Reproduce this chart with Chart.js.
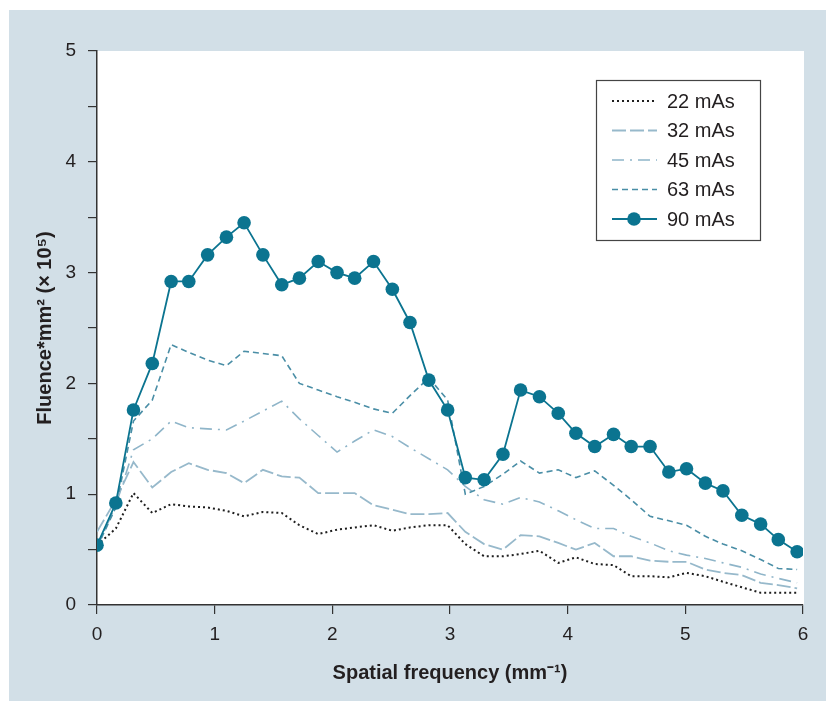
<!DOCTYPE html>
<html lang="en">
<head>
    <meta charset="UTF-8">
    <title>Fluence vs spatial frequency</title>
    <script src="https://cdn.jsdelivr.net/npm/chart.js@4.4.0/dist/chart.umd.min.js"></script>
    <style>
        body {
            margin: 0;
            background-color: #fff;
        }
        .panel {
            position: absolute;
            left: 9px;
            top: 10px;
            width: 817px;
            height: 691px;
            background-color: #d2dfe7;
        }
    </style>
</head>
<body>
    <div class="panel">
        <canvas id="chart" width="817" height="691"></canvas>
    </div>

    <script>
        // Spatial frequency samples (mm^-1)
        const freq = [0, 0.16, 0.31, 0.47, 0.63, 0.78, 0.94, 1.10, 1.25, 1.41,
            1.57, 1.72, 1.88, 2.04, 2.19, 2.35, 2.51, 2.66, 2.82, 2.98,
            3.13, 3.29, 3.45, 3.60, 3.76, 3.92, 4.07, 4.23, 4.39, 4.54,
            4.70, 4.86, 5.01, 5.17, 5.32, 5.48, 5.64, 5.79, 5.95];

        // Fluence*mm^2 (x 10^5) for each tube load
        const mas22 = [0.54, 0.69, 1.01, 0.83, 0.91, 0.89, 0.88, 0.85, 0.80, 0.84,
            0.83, 0.72, 0.64, 0.68, 0.70, 0.72, 0.67, 0.70, 0.72, 0.72,
            0.55, 0.44, 0.44, 0.46, 0.49, 0.38, 0.43, 0.37, 0.36, 0.26,
            0.26, 0.25, 0.29, 0.26, 0.21, 0.16, 0.11, 0.11, 0.11];
        const mas32 = [0.66, 0.95, 1.29, 1.06, 1.20, 1.28, 1.22, 1.19, 1.10, 1.22,
            1.16, 1.15, 1.01, 1.01, 1.01, 0.90, 0.86, 0.82, 0.82, 0.83,
            0.66, 0.55, 0.50, 0.63, 0.62, 0.56, 0.50, 0.56, 0.44, 0.44,
            0.40, 0.39, 0.39, 0.32, 0.29, 0.27, 0.20, 0.18, 0.15];
        const mas45 = [0.52, 0.90, 1.40, 1.50, 1.66, 1.60, 1.59, 1.58, 1.66, 1.75,
            1.84, 1.68, 1.53, 1.38, 1.48, 1.58, 1.52, 1.42, 1.32, 1.22,
            1.07, 0.95, 0.91, 0.97, 0.93, 0.85, 0.77, 0.69, 0.69, 0.62,
            0.56, 0.49, 0.45, 0.42, 0.38, 0.34, 0.28, 0.24, 0.20];
        const mas63 = [0.52, 0.88, 1.66, 1.85, 2.35, 2.28, 2.21, 2.16, 2.29, 2.27,
            2.25, 2.00, 1.94, 1.88, 1.83, 1.77, 1.73, 1.89, 2.05, 1.85,
            1.00, 1.07, 1.18, 1.30, 1.19, 1.22, 1.15, 1.21, 1.08, 0.95,
            0.80, 0.76, 0.72, 0.62, 0.55, 0.49, 0.41, 0.33, 0.32];
        const mas90 = [0.54, 0.92, 1.76, 2.18, 2.92, 2.92, 3.16, 3.32, 3.45, 3.16,
            2.89, 2.95, 3.10, 3.00, 2.95, 3.10, 2.85, 2.55, 2.03, 1.76,
            1.15, 1.13, 1.36, 1.94, 1.88, 1.73, 1.55, 1.43, 1.54, 1.43,
            1.43, 1.20, 1.23, 1.10, 1.03, 0.81, 0.73, 0.59, 0.48];

        const seriesNames = ['22 mAs', '32 mAs', '45 mAs', '63 mAs', '90 mAs'];

        const textColor = '#231f20';
        const fontFamily = "'Liberation Sans', Arial, sans-serif";

        function toPoints(values) {
            return freq.map((f, i) => ({ x: f, y: values[i] }));
        }

        // White plot area behind the lines
        const plotBackground = {
            id: 'plotBackground',
            beforeDraw(chart) {
                const { ctx, chartArea } = chart;
                ctx.save();
                ctx.fillStyle = '#fff';
                ctx.fillRect(chartArea.left, chartArea.top,
                    chartArea.right - chartArea.left + 1, chartArea.bottom - chartArea.top);
                ctx.restore();
            }
        };

        // Boxed legend in the upper right of the plot
        const boxLegend = {
            id: 'boxLegend',
            afterDraw(chart) {
                const { ctx, chartArea } = chart;
                const left = chartArea.right - 207;
                const top = chartArea.top + 29;
                const width = 164;
                const height = 160;
                ctx.save();
                ctx.fillStyle = '#fff';
                ctx.fillRect(left, top, width, height);
                ctx.strokeStyle = '#444';
                ctx.lineWidth = 1.2;
                ctx.strokeRect(left + 0.5, top + 0.5, width, height);

                ctx.font = '20px ' + fontFamily;
                ctx.textBaseline = 'middle';
                ctx.fillStyle = textColor;
                chart.data.datasets.forEach((ds, i) => {
                    const y = top + 21 + i * 29.5;
                    ctx.strokeStyle = ds.borderColor;
                    ctx.lineWidth = ds.borderWidth;
                    ctx.setLineDash(ds.borderDash || []);
                    ctx.beginPath();
                    ctx.moveTo(left + 16, y);
                    ctx.lineTo(left + 61, y);
                    ctx.stroke();
                    ctx.setLineDash([]);
                    if (ds.pointRadius > 0) {
                        ctx.fillStyle = ds.pointBackgroundColor;
                        ctx.beginPath();
                        ctx.arc(left + 38, y, ds.pointRadius, 0, Math.PI * 2);
                        ctx.fill();
                    }
                    ctx.fillStyle = textColor;
                    ctx.fillText(ds.label, left + 71, y + 1);
                });
                ctx.restore();
            }
        };

        const datasets = [
            {
                label: seriesNames[0],
                data: toPoints(mas22),
                borderColor: '#1e1e1e',
                borderWidth: 2,
                borderDash: [2, 3],
                pointRadius: 0,
                order: 5
            },
            {
                label: seriesNames[1],
                data: toPoints(mas32),
                borderColor: '#97b9cb',
                borderWidth: 1.8,
                borderDash: [14, 4],
                pointRadius: 0,
                order: 4
            },
            {
                label: seriesNames[2],
                data: toPoints(mas45),
                borderColor: '#8fb5c9',
                borderWidth: 1.6,
                borderDash: [12, 6, 2, 6],
                pointRadius: 0,
                order: 3
            },
            {
                label: seriesNames[3],
                data: toPoints(mas63),
                borderColor: '#4a8ea6',
                borderWidth: 1.6,
                borderDash: [6, 4],
                pointRadius: 0,
                order: 2
            },
            {
                label: seriesNames[4],
                data: toPoints(mas90),
                borderColor: '#0b7490',
                borderWidth: 1.8,
                pointRadius: 6.8,
                pointBackgroundColor: '#0b7490',
                pointBorderWidth: 0,
                order: 1
            }
        ];

        const ctx = document.getElementById('chart').getContext('2d');
        new Chart(ctx, {
            type: 'line',
            data: { datasets: datasets },
            options: {
                responsive: false,
                animation: false,
                layout: { padding: { left: 0, right: 23, top: 41, bottom: 0 } },
                plugins: {
                    legend: { display: false },
                    tooltip: { enabled: false }
                },
                scales: {
                    x: {
                        type: 'linear',
                        min: 0,
                        max: 6,
                        ticks: {
                            stepSize: 1,
                            color: textColor,
                            padding: 9,
                            font: { size: 19, family: fontFamily }
                        },
                        grid: { drawOnChartArea: false, tickLength: 9, color: '#333', lineWidth: 1.2 },
                        border: { color: '#333', width: 1.5 },
                        title: {
                            display: true,
                            text: 'Spatial frequency (mm⁻¹)',
                            color: textColor,
                            padding: { top: 0, bottom: 16 },
                            font: { size: 20, weight: 'bold', family: fontFamily }
                        },
                        afterFit(scale) { scale.height = 96; }
                    },
                    y: {
                        min: 0,
                        max: 5,
                        ticks: {
                            stepSize: 0.5,
                            color: textColor,
                            padding: 12,
                            font: { size: 19, family: fontFamily },
                            callback: v => (Number.isInteger(v) ? v : '')
                        },
                        grid: { drawOnChartArea: false, tickLength: 9, color: '#333', lineWidth: 1.2 },
                        border: { color: '#333', width: 1.5 },
                        title: {
                            display: true,
                            text: 'Fluence*mm² (× 10⁵)',
                            color: textColor,
                            padding: { top: 24, bottom: 0 },
                            font: { size: 20, weight: 'bold', family: fontFamily }
                        },
                        afterFit(scale) { scale.width = 88; }
                    }
                }
            },
            plugins: [plotBackground, boxLegend]
        });
    </script>
</body>
</html>
